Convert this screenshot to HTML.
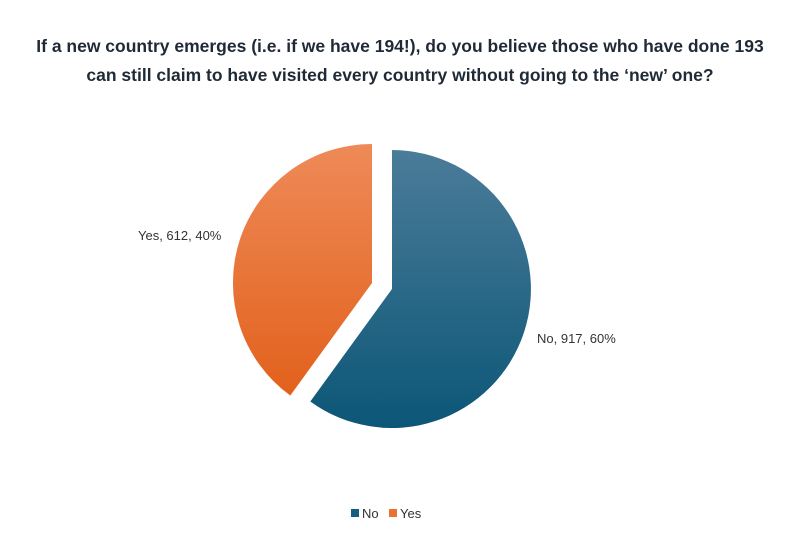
<!DOCTYPE html>
<html><head><meta charset="utf-8"><style>
body{margin:0;width:800px;height:532px;background:#fff;font-family:"Liberation Sans",sans-serif;overflow:hidden}
</style></head><body>
<svg width="800" height="532" xmlns="http://www.w3.org/2000/svg">
<defs>
<linearGradient id="gn" x1="0" y1="0" x2="0" y2="1"><stop offset="0" stop-color="#4b7c99"/><stop offset="1" stop-color="#0c5677"/></linearGradient>
<linearGradient id="gy" x1="0" y1="0" x2="0" y2="1"><stop offset="0" stop-color="#ee8a58"/><stop offset="1" stop-color="#e2611c"/></linearGradient>
</defs>
<text x="400" y="52" text-anchor="middle" font-size="17.5" font-weight="bold" fill="#1f2a36">If a new country emerges (i.e. if we have 194!), do you believe those who have done 193</text>
<text x="400" y="81" text-anchor="middle" font-size="17.5" font-weight="bold" fill="#1f2a36">can still claim to have visited every country without going to the ‘new’ one?</text>
<path d="M392,289 L392,150 A139,139 0 1 1 310.3,401.5 Z" fill="url(#gn)"/>
<path d="M372,283 L290.3,395.5 A139,139 0 0 1 372,144 Z" fill="url(#gy)"/>
<text x="138" y="240" font-size="13" fill="#333">Yes, 612, 40%</text>
<text x="537" y="343" font-size="13" fill="#333">No, 917, 60%</text>
<rect x="351" y="509" width="8" height="8" fill="#155d7e"/>
<text x="362" y="518" font-size="13" fill="#333">No</text>
<rect x="389" y="509" width="8" height="8" fill="#e8722f"/>
<text x="400" y="518" font-size="13" fill="#333">Yes</text>
</svg>
</body></html>
